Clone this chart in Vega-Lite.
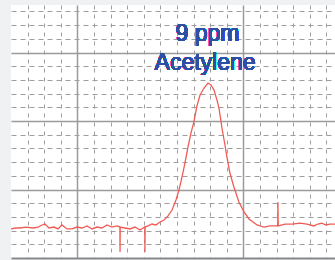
{
  "$schema": "https://vega.github.io/schema/vega-lite/v6.json",
  "autosize": "none",
  "width": 324,
  "height": 253,
  "padding": {"left": 11, "top": 5, "right": 0, "bottom": 2},
  "background": "#eff1f2",
  "config": {"view": {"stroke": null, "fill": "white"}},
  "data": {"values": [
    {"t": 0, "s": 2.12}, {"t": 0.30, "s": 2.19}, {"t": 0.54, "s": 2.19}, {"t": 0.90, "s": 2.26},
    {"t": 1.33, "s": 2.19}, {"t": 1.63, "s": 2.26}, {"t": 1.87, "s": 2.41}, {"t": 2.05, "s": 2.48},
    {"t": 2.29, "s": 2.19}, {"t": 2.59, "s": 2.26}, {"t": 2.83, "s": 2.12}, {"t": 3.07, "s": 2.41},
    {"t": 3.37, "s": 2.12}, {"t": 3.67, "s": 2.12}, {"t": 3.98, "s": 2.26}, {"t": 4.28, "s": 2.19},
    {"t": 4.58, "s": 2.34}, {"t": 4.88, "s": 2.12}, {"t": 5.18, "s": 2.26}, {"t": 5.48, "s": 2.19},
    {"t": 5.78, "s": 2.41}, {"t": 6.08, "s": 2.26}, {"t": 6.39, "s": 2.34}, {"t": 6.56, "s": 2.26},
    {"t": 6.57, "s": 0.44}, {"t": 6.58, "s": 2.26}, {"t": 6.87, "s": 2.19}, {"t": 7.17, "s": 2.12},
    {"t": 7.47, "s": 2.26}, {"t": 7.77, "s": 2.04}, {"t": 8.06, "s": 2.26}, {"t": 8.07, "s": 0.44},
    {"t": 8.08, "s": 2.26}, {"t": 8.25, "s": 2.34}, {"t": 8.49, "s": 2.48}, {"t": 8.73, "s": 2.41},
    {"t": 8.98, "s": 2.63}, {"t": 9.22, "s": 2.77}, {"t": 9.46, "s": 3.07}, {"t": 9.70, "s": 3.50},
    {"t": 9.94, "s": 4.23}, {"t": 10.12, "s": 4.96}, {"t": 10.30, "s": 5.91}, {"t": 10.48, "s": 6.93},
    {"t": 10.66, "s": 8.10}, {"t": 10.84, "s": 9.12}, {"t": 11.02, "s": 9.93}, {"t": 11.20, "s": 11.09},
    {"t": 11.39, "s": 11.90}, {"t": 11.63, "s": 12.41}, {"t": 11.87, "s": 12.77}, {"t": 12.05, "s": 12.63},
    {"t": 12.23, "s": 12.26}, {"t": 12.41, "s": 11.53}, {"t": 12.53, "s": 10.95}, {"t": 12.71, "s": 9.49},
    {"t": 12.89, "s": 8.25}, {"t": 13.01, "s": 7.37}, {"t": 13.19, "s": 6.20}, {"t": 13.43, "s": 5.18},
    {"t": 13.73, "s": 4.09}, {"t": 14.04, "s": 3.36}, {"t": 14.34, "s": 2.85}, {"t": 14.58, "s": 2.63},
    {"t": 14.82, "s": 2.41}, {"t": 15.24, "s": 2.26}, {"t": 15.60, "s": 2.34}, {"t": 15.96, "s": 2.34},
    {"t": 16.07, "s": 2.34}, {"t": 16.08, "s": 4.09}, {"t": 16.10, "s": 2.34}, {"t": 16.51, "s": 2.48},
    {"t": 16.93, "s": 2.48}, {"t": 17.41, "s": 2.55}, {"t": 17.83, "s": 2.48}, {"t": 18.25, "s": 2.34},
    {"t": 18.49, "s": 2.48}, {"t": 18.73, "s": 2.55}, {"t": 18.98, "s": 2.41}, {"t": 19.22, "s": 2.48},
    {"t": 19.52, "s": 2.48}
  ]},
  "layer": [
    {
      "mark": {"type": "line", "color": "#f05c55", "strokeWidth": 1.3, "clip": true},
      "encoding": {
        "x": {"field": "t", "type": "quantitative", "scale": {"domain": [0, 19.52], "nice": false, "zero": false},
          "axis": {"title": null, "labels": false, "ticks": false, "domain": true, "domainColor": "#8a8a8a", "domainWidth": 2,
            "values": [1,2,3,4,5,6,7,8,9,10,11,12,13,14,15,16,17,18,19],
            "grid": true,
            "gridColor": {"condition": {"test": "datum.value === 4 || datum.value === 14", "value": "#9a9a9a"}, "value": "#9e9e9e"},
            "gridWidth": {"condition": {"test": "datum.value === 4 || datum.value === 14", "value": 1.5}, "value": 1},
            "gridDash": {"condition": {"test": "datum.value === 4 || datum.value === 14", "value": []}, "value": [4, 5]}}},
        "y": {"field": "s", "type": "quantitative", "scale": {"domain": [0, 18.47], "nice": false, "zero": false},
          "axis": {"title": null, "labels": false, "ticks": false, "domain": false,
            "values": [1,2,3,4,5,6,7,8,9,10,11,12,13,14,15,16,17,18],
            "grid": true,
            "gridColor": {"condition": {"test": "datum.value % 5 === 0", "value": "#9a9a9a"}, "value": "#9e9e9e"},
            "gridWidth": {"condition": {"test": "datum.value % 5 === 0", "value": 1.5}, "value": 1},
            "gridDash": {"condition": {"test": "datum.value % 5 === 0", "value": []}, "value": [5, 4]}}},
        "order": {"value": null}
      }
    },
    {
      "mark": {"type": "text", "text": "9 ppm", "font": "Liberation Sans", "fontSize": 23, "fill": "#2e4fa3", "align": "center", "baseline": "alphabetic"},
      "encoding": {
        "x": {"datum": 11.84,
          "axis": {"title": null, "labels": false, "ticks": false, "domain": true, "domainColor": "#8a8a8a", "domainWidth": 2,
            "values": [1,2,3,4,5,6,7,8,9,10,11,12,13,14,15,16,17,18,19],
            "grid": true,
            "gridColor": {"condition": {"test": "datum.value === 4 || datum.value === 14", "value": "#9a9a9a"}, "value": "#9e9e9e"},
            "gridWidth": {"condition": {"test": "datum.value === 4 || datum.value === 14", "value": 1.5}, "value": 1},
            "gridDash": {"condition": {"test": "datum.value === 4 || datum.value === 14", "value": []}, "value": [4, 5]}}},
        "y": {"datum": 15.84,
          "axis": {"title": null, "labels": false, "ticks": false, "domain": false,
            "values": [1,2,3,4,5,6,7,8,9,10,11,12,13,14,15,16,17,18],
            "grid": true,
            "gridColor": {"condition": {"test": "datum.value % 5 === 0", "value": "#9a9a9a"}, "value": "#9e9e9e"},
            "gridWidth": {"condition": {"test": "datum.value % 5 === 0", "value": 1.5}, "value": 1},
            "gridDash": {"condition": {"test": "datum.value % 5 === 0", "value": []}, "value": [5, 4]}}}
      }
    },
    {
      "mark": {"type": "text", "text": "Acetylene", "font": "Liberation Sans", "fontSize": 23, "fill": "#2e4fa3", "align": "center", "baseline": "alphabetic"},
      "encoding": {
        "x": {"datum": 11.69,
          "axis": {"title": null, "labels": false, "ticks": false, "domain": true, "domainColor": "#8a8a8a", "domainWidth": 2,
            "values": [1,2,3,4,5,6,7,8,9,10,11,12,13,14,15,16,17,18,19],
            "grid": true,
            "gridColor": {"condition": {"test": "datum.value === 4 || datum.value === 14", "value": "#9a9a9a"}, "value": "#9e9e9e"},
            "gridWidth": {"condition": {"test": "datum.value === 4 || datum.value === 14", "value": 1.5}, "value": 1},
            "gridDash": {"condition": {"test": "datum.value === 4 || datum.value === 14", "value": []}, "value": [4, 5]}}},
        "y": {"datum": 13.72,
          "axis": {"title": null, "labels": false, "ticks": false, "domain": false,
            "values": [1,2,3,4,5,6,7,8,9,10,11,12,13,14,15,16,17,18],
            "grid": true,
            "gridColor": {"condition": {"test": "datum.value % 5 === 0", "value": "#9a9a9a"}, "value": "#9e9e9e"},
            "gridWidth": {"condition": {"test": "datum.value % 5 === 0", "value": 1.5}, "value": 1},
            "gridDash": {"condition": {"test": "datum.value % 5 === 0", "value": []}, "value": [5, 4]}}}
      }
    }
  ]
}
